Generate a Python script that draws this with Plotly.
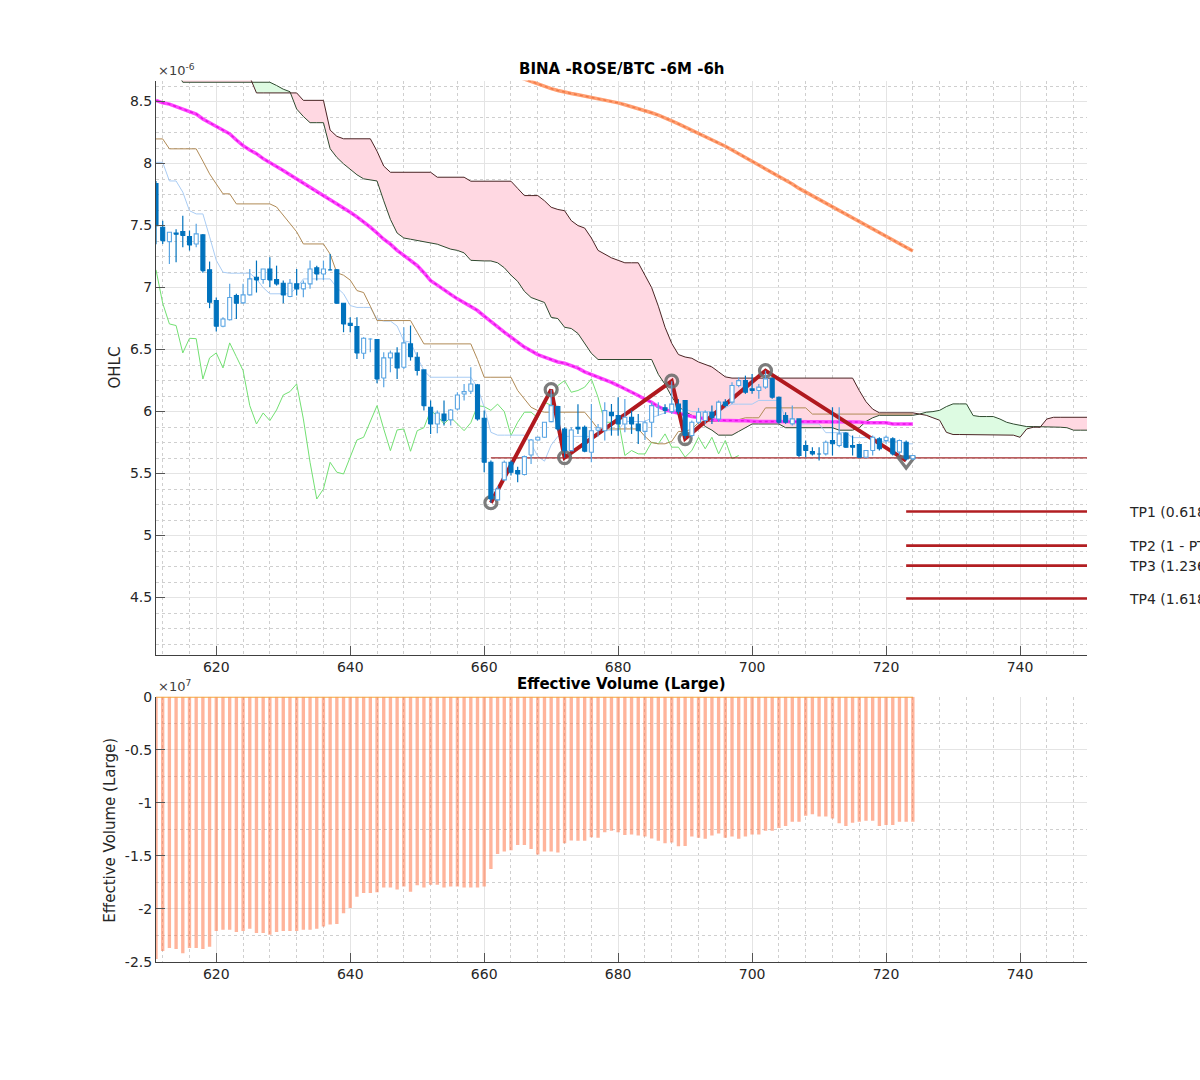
import plotly.graph_objects as go

# ---------------- data ----------------
x_start = 611
x_end_axis = 750
candle_x = list(range(611, 725))

opens = [7.84, 7.487, 7.371, 7.44, 7.452, 7.411, 7.352, 7.425, 7.143, 6.895,
         6.688, 6.74, 6.936, 6.877, 6.941, 7.083, 7.065, 7.15, 7.065, 7.035,
         6.928, 7.03, 6.99, 7.03, 7.159, 7.11, 7.145, 7.143, 6.874, 6.712,
         6.685, 6.47, 6.585, 6.58, 6.271, 6.433, 6.473, 6.358, 6.546, 6.438,
         6.336, 6.035, 5.90, 5.981, 5.933, 6.021, 6.142, 6.164, 6.215, 5.946,
         5.591, 5.288, 5.449, 5.591, 5.524, 5.492, 5.65, 5.771, 5.793, 5.919,
         6.04, 5.86, 5.685, 5.873, 5.873, 5.672, 5.85, 5.846, 5.994, 5.967,
         5.90, 5.954, 5.90, 5.84, 5.914, 6.035, 6.03, 6.00, 6.06, 6.089,
         5.807, 5.914, 5.928, 5.995, 5.94, 6.076, 6.076, 6.21, 6.25, 6.183,
         6.17, 6.197, 6.264, 6.116, 5.968, 5.901, 5.941, 5.726, 5.678, 5.66,
         5.659, 5.767, 5.726, 5.826, 5.726, 5.734, 5.632, 5.686, 5.78, 5.767,
         5.78, 5.673, 5.753, 5.619]
highs = [7.86, 7.54, 7.446, 7.47, 7.58, 7.46, 7.514, 7.433, 7.21, 6.92,
         6.76, 7.03, 6.95, 7.03, 7.15, 7.218, 7.15, 7.245, 7.177, 7.057,
         7.07, 7.15, 7.057, 7.218, 7.177, 7.218, 7.27, 7.15, 6.874, 6.76,
         6.76, 6.60, 6.59, 6.586, 6.478, 6.492, 6.519, 6.68, 6.694, 6.478,
         6.336, 6.089, 6.008, 6.089, 6.021, 6.156, 6.223, 6.357, 6.223, 6.008,
         5.605, 5.40, 5.605, 5.605, 5.556, 5.645, 5.779, 5.798, 5.914, 6.177,
         6.048, 5.873, 5.873, 6.06, 5.887, 6.061, 5.90, 6.075, 6.061, 6.115,
         6.102, 6.008, 5.981, 5.93, 6.075, 6.075, 6.06, 6.245, 6.10, 6.089,
         5.928, 6.03, 6.01, 6.05, 6.09, 6.10, 6.237, 6.277, 6.29, 6.304,
         6.223, 6.33, 6.277, 6.121, 5.995, 6.049, 5.941, 5.767, 5.713, 5.713,
         5.767, 6.035, 6.035, 5.834, 5.807, 5.74, 5.69, 5.807, 5.793, 5.807,
         5.793, 5.775, 5.767, 5.65]
lows = [7.35, 7.352, 7.191, 7.205, 7.325, 7.30, 7.325, 7.12, 6.834, 6.645,
        6.68, 6.735, 6.747, 6.87, 6.936, 6.96, 7.03, 7.003, 7.016, 6.874,
        6.922, 6.936, 6.922, 6.99, 7.057, 7.062, 7.14, 6.87, 6.64, 6.64,
        6.425, 6.425, 6.478, 6.228, 6.196, 6.317, 6.263, 6.344, 6.411, 6.29,
        6.008, 5.82, 5.825, 5.887, 5.887, 6.008, 6.089, 6.142, 5.927, 5.51,
        5.265, 5.28, 5.443, 5.484, 5.43, 5.484, 5.578, 5.766, 5.787, 5.914,
        5.846, 5.629, 5.68, 5.82, 5.672, 5.591, 5.80, 5.766, 5.806, 5.806,
        5.833, 5.82, 5.739, 5.77, 5.793, 5.967, 5.98, 5.98, 5.98, 5.782,
        5.793, 5.90, 5.90, 5.90, 5.915, 6.035, 6.062, 6.197, 6.143, 6.143,
        6.103, 6.183, 6.103, 5.901, 5.901, 5.888, 5.632, 5.632, 5.646, 5.605,
        5.646, 5.646, 5.713, 5.708, 5.646, 5.627, 5.627, 5.646, 5.686, 5.74,
        5.646, 5.646, 5.605, 5.61]
closes = [7.50, 7.379, 7.446, 7.43, 7.42, 7.344, 7.433, 7.137, 6.882, 6.688,
          6.747, 6.92, 6.874, 6.941, 7.07, 7.062, 7.15, 7.062, 7.03, 6.941,
          7.035, 6.99, 7.035, 7.15, 7.11, 7.15, 7.143, 6.874, 6.707, 6.694,
          6.473, 6.591, 6.588, 6.263, 6.433, 6.473, 6.352, 6.554, 6.443, 6.331,
          6.048, 5.90, 5.989, 5.927, 6.013, 6.134, 6.161, 6.223, 5.941, 5.591,
          5.295, 5.376, 5.591, 5.511, 5.497, 5.637, 5.771, 5.793, 5.914, 6.048,
          5.86, 5.685, 5.852, 5.86, 5.68, 5.846, 5.87, 6.008, 5.967, 5.90,
          5.954, 5.90, 5.846, 5.91, 6.048, 6.04, 6.01, 6.06, 6.00, 5.807,
          5.914, 5.995, 5.995, 5.95, 6.076, 6.05, 6.21, 6.25, 6.156, 6.17,
          6.197, 6.264, 6.116, 5.914, 5.914, 5.941, 5.646, 5.686, 5.659, 5.658,
          5.753, 5.74, 5.82, 5.713, 5.713, 5.632, 5.686, 5.793, 5.70, 5.793,
          5.659, 5.767, 5.619, 5.646]

tenkan = [8.01, 8.01, 7.86, 7.86, 7.77, 7.62, 7.594, 7.594, 7.41, 7.22,
          7.124, 7.116, 7.116, 7.116, 7.116, 7.07, 7.0, 6.95, 6.95, 6.95,
          6.95, 7.0, 7.07, 7.07, 7.07, 7.07, 7.07, 7.0, 6.95, 6.855,
          6.84, 6.84, 6.84, 6.747, 6.73, 6.73, 6.69, 6.57, 6.56, 6.44,
          6.33, 6.277, 6.277, 6.277, 6.277, 6.277, 6.277, 6.277, 6.196, 6.035,
          5.833, 5.81, 5.81, 5.81, 5.81, 5.81, 5.74, 5.64, 5.60, 5.73,
          5.80, 5.80, 5.80, 5.80, 5.80, 5.80, 5.83, 5.85, 5.85, 5.85,
          5.92, 5.92, 5.92, 5.92, 5.95, 5.97, 5.99, 6.01, 6.015, 6.02,
          6.0, 6.0, 6.0, 6.0, 6.0, 6.03, 6.06, 6.06, 6.06, 6.06,
          6.09, 6.09, 6.09, 6.09, 5.94, 5.94, 5.90, 5.90, 5.90, 5.90,
          5.83, 5.83, 5.83, 5.83, 5.79, 5.79, 5.79, 5.79, 5.76, 5.76,
          5.76, 5.76, 5.74, 5.74]
kijun = [8.199, 8.199, 8.119, 8.119, 8.119, 8.119, 8.119, 8.02, 7.917, 7.836,
         7.756, 7.756, 7.675, 7.675, 7.675, 7.675, 7.675, 7.675, 7.65, 7.58,
         7.514, 7.45, 7.352, 7.352, 7.352, 7.352, 7.27, 7.12, 7.10, 7.06,
         6.976, 6.96, 6.85, 6.734, 6.734, 6.734, 6.734, 6.734, 6.734, 6.64,
         6.546, 6.546, 6.546, 6.546, 6.546, 6.546, 6.546, 6.546, 6.42, 6.277,
         6.277, 6.277, 6.277, 6.277, 6.17, 6.10, 6.035, 6.008, 5.995, 5.995,
         5.995, 5.995, 5.995, 5.995, 5.995, 5.93, 5.86, 5.86, 5.86, 5.86,
         5.86, 5.86, 5.86, 5.80, 5.75, 5.74, 5.74, 5.76, 5.84, 5.84,
         5.86, 5.91, 5.92, 5.92, 5.92, 5.92, 5.92, 5.935, 5.95, 5.95,
         5.95, 6.03, 6.03, 6.03, 6.03, 6.03, 6.03, 6.03, 5.98, 5.98,
         5.98, 5.98, 5.98, 5.98, 5.98, 5.98, 5.98, 5.98, 5.98, 5.98,
         5.98, 5.98, 5.98, 5.98]

chikou_x = list(range(611, 699))
chikou = [7.143, 6.874, 6.707, 6.694, 6.473, 6.591, 6.588, 6.263, 6.433, 6.473,
          6.352, 6.554, 6.443, 6.331, 6.048, 5.90, 5.989, 5.927, 6.013, 6.134,
          6.161, 6.223, 5.941, 5.591, 5.295, 5.376, 5.591, 5.511, 5.497, 5.637,
          5.771, 5.793, 5.914, 6.048, 5.86, 5.685, 5.852, 5.86, 5.68, 5.846,
          5.87, 6.008, 5.967, 5.90, 5.954, 5.90, 5.846, 5.91, 6.048, 6.04,
          6.01, 6.06, 6.00, 5.807, 5.914, 5.995, 5.995, 5.95, 6.076, 6.05,
          6.21, 6.25, 6.156, 6.17, 6.197, 6.264, 6.116, 5.914, 5.914, 5.941,
          5.646, 5.686, 5.659, 5.658, 5.753, 5.74, 5.82, 5.713, 5.713, 5.632,
          5.686, 5.793, 5.70, 5.793, 5.659, 5.767, 5.619, 5.646]

cloud_x = list(range(611, 751))
senkou_a = [8.75, 8.75, 8.75, 8.75, 8.656, 8.656, 8.656, 8.656, 8.656, 8.656,   # 611-620
            8.656, 8.656, 8.656, 8.656, 8.656, 8.656, 8.656, 8.656, 8.63, 8.60,  # 621-630
            8.58, 8.44, 8.38, 8.33, 8.33, 8.33, 8.12, 8.05, 7.998, 7.95,       # 631-640
            7.91, 7.877, 7.87, 7.86, 7.70, 7.55, 7.44, 7.40, 7.39, 7.38,       # 641-650
            7.37, 7.36, 7.35, 7.33, 7.31, 7.30, 7.28, 7.22, 7.215, 7.215,      # 651-660
            7.215, 7.20, 7.16, 7.10, 7.05, 6.97, 6.92, 6.90, 6.88, 6.76,       # 661-670
            6.75, 6.68, 6.67, 6.63, 6.55, 6.47, 6.42, 6.42, 6.42, 6.42,        # 671-680
            6.42, 6.42, 6.42, 6.42, 6.42, 6.30, 6.22, 6.12, 6.04, 6.00,        # 681-690
            5.97, 5.93, 5.88, 5.85, 5.81, 5.81, 5.81, 5.84, 5.87, 5.90,        # 691-700
            5.90, 5.90, 5.90, 5.90, 5.87, 5.87, 5.87, 5.87, 5.87, 5.87,        # 701-710
            5.87, 5.87, 5.85, 5.85, 5.85, 5.87, 5.92, 5.95, 5.97, 5.97,        # 711-720
            5.97, 5.97, 5.97, 5.97, 5.98, 5.995, 6.0, 6.01, 6.04, 6.062,       # 721-730
            6.062, 6.062, 5.968, 5.96, 5.96, 5.96, 5.94, 5.914, 5.90, 5.887,   # 731-740
            5.879, 5.879, 5.879, 5.874, 5.874, 5.874, 5.87, 5.85, 5.85, 5.85]  # 741-750
senkou_b = [8.75, 8.75, 8.75, 8.75, 8.75, 8.75, 8.75, 8.75, 8.75, 8.75,        # 611-620
            8.75, 8.75, 8.75, 8.75, 8.70, 8.57, 8.57, 8.57, 8.57, 8.57,        # 621-630
            8.57, 8.57, 8.51, 8.51, 8.51, 8.51, 8.27, 8.22, 8.20, 8.20,        # 631-640
            8.20, 8.20, 8.20, 8.10, 7.98, 7.93, 7.93, 7.93, 7.93, 7.93,        # 641-650
            7.93, 7.93, 7.89, 7.89, 7.89, 7.89, 7.89, 7.858, 7.858, 7.858,     # 651-660
            7.858, 7.858, 7.858, 7.858, 7.80, 7.742, 7.742, 7.742, 7.70, 7.648,  # 661-670
            7.63, 7.62, 7.54, 7.50, 7.48, 7.40, 7.30, 7.27, 7.24, 7.22,        # 671-680
            7.20, 7.20, 7.20, 7.10, 7.00, 6.85, 6.68, 6.55, 6.46, 6.44,        # 681-690
            6.43, 6.40, 6.38, 6.36, 6.32, 6.28, 6.27, 6.27, 6.27, 6.27,        # 691-700
            6.27, 6.27, 6.27, 6.27, 6.27, 6.27, 6.27, 6.27, 6.27, 6.27,        # 701-710
            6.27, 6.27, 6.27, 6.27, 6.27, 6.17, 6.08, 6.02, 5.99, 5.99,        # 711-720
            5.99, 5.99, 5.99, 5.99, 5.98, 5.97, 5.95, 5.93, 5.833, 5.815,      # 721-730
            5.815, 5.815, 5.815, 5.815, 5.815, 5.815, 5.81, 5.81, 5.81, 5.793, # 731-740
            5.86, 5.874, 5.874, 5.94, 5.954, 5.954, 5.954, 5.954, 5.954, 5.954]  # 741-750

ma_magenta = [8.51, 8.49, 8.48, 8.46, 8.44, 8.42, 8.40, 8.36, 8.33, 8.30,
              8.27, 8.24, 8.19, 8.145, 8.11, 8.08, 8.04, 8.01, 7.975, 7.944,
              7.91, 7.877, 7.84, 7.805, 7.77, 7.74, 7.71, 7.675, 7.64, 7.608,
              7.57, 7.53, 7.487, 7.44, 7.39, 7.35, 7.30, 7.26, 7.22, 7.178,
              7.12, 7.056, 7.02, 6.98, 6.945, 6.909, 6.88, 6.85, 6.815, 6.77,
              6.725, 6.68, 6.64, 6.60, 6.559, 6.52, 6.49, 6.46, 6.44, 6.42,
              6.40, 6.39, 6.37, 6.35, 6.32, 6.30, 6.28, 6.26, 6.235, 6.21,
              6.185, 6.16, 6.13, 6.10, 6.075, 6.04, 6.015, 6.0, 5.985, 5.97,
              5.96, 5.95, 5.94, 5.935, 5.93, 5.927, 5.927, 5.927, 5.927, 5.92,
              5.92, 5.92, 5.92, 5.92, 5.92, 5.915, 5.915, 5.915, 5.915, 5.915,
              5.915, 5.915, 5.915, 5.915, 5.915, 5.915, 5.91, 5.91, 5.91, 5.91,
              5.90, 5.90, 5.90, 5.90]

ma_orange_x = list(range(664, 725))
ma_orange = [8.72, 8.70, 8.685, 8.665, 8.645, 8.625, 8.605, 8.59, 8.575, 8.565,
             8.555, 8.545, 8.53, 8.52, 8.51, 8.50, 8.49, 8.475, 8.46, 8.445,
             8.43, 8.41, 8.39, 8.37, 8.345, 8.32, 8.295, 8.27, 8.245, 8.22,
             8.19, 8.165, 8.14, 8.11, 8.08, 8.05, 8.02, 7.99, 7.96, 7.93,
             7.90, 7.865, 7.835, 7.80, 7.77, 7.74, 7.71, 7.685, 7.655, 7.625,
             7.595, 7.565, 7.535, 7.505, 7.47, 7.44, 7.41, 7.38, 7.35, 7.32,
             7.295]

zigzag_x = [661, 670, 672, 688, 690, 702, 723]
zigzag_y = [5.265, 6.177, 5.629, 6.245, 5.782, 6.33, 5.605]

support_start = 661
support_level = 5.627

tp_start = 723
tp_levels = [5.194, 4.919, 4.758, 4.492]
tp_labels = ["TP1 (0.618)", "TP2 (1 - PT)", "TP3 (1.236)", "TP4 (1.618)"]

volume = [-2.475, -2.40, -2.37, -2.38, -2.42, -2.37, -2.37, -2.38, -2.36, -2.21,
          -2.20, -2.20, -2.22, -2.21, -2.19, -2.23, -2.23, -2.245, -2.22, -2.21,
          -2.21, -2.21, -2.20, -2.20, -2.19, -2.167, -2.15, -2.145, -2.044, -1.994,
          -1.887, -1.852, -1.852, -1.846, -1.80, -1.80, -1.82, -1.79, -1.84, -1.78,
          -1.80, -1.775, -1.775, -1.80, -1.79, -1.79, -1.80, -1.80, -1.80, -1.79,
          -1.626, -1.484, -1.46, -1.45, -1.40, -1.40, -1.437, -1.49, -1.46, -1.46,
          -1.47, -1.384, -1.358, -1.36, -1.36, -1.327, -1.33, -1.28, -1.264, -1.28,
          -1.305, -1.30, -1.31, -1.32, -1.337, -1.36, -1.384, -1.375, -1.412, -1.41,
          -1.32, -1.33, -1.34, -1.31, -1.29, -1.33, -1.32, -1.34, -1.32, -1.30,
          -1.30, -1.264, -1.264, -1.24, -1.22, -1.18, -1.18, -1.123, -1.11, -1.13,
          -1.13, -1.15, -1.195, -1.22, -1.19, -1.18, -1.17, -1.17, -1.22, -1.21,
          -1.21, -1.18, -1.18, -1.18]

price_ticks = [4.5, 5, 5.5, 6, 6.5, 7, 7.5, 8, 8.5]
vol_ticks = [0, -0.5, -1, -1.5, -2, -2.5]
vol_ticktext = ["0", "-0.5", "-1", "-1.5", "-2", "-2.5"]
x_ticks = [620, 640, 660, 680, 700, 720, 740]

# ---------------- figure ----------------
W, H = 1200, 1080
FONT = "DejaVu Sans"
# the rendered page maps layout pixels slightly compressed vertically; compensate
def yfrac(px):
    return 1 - ((px - 7.5) / 0.985) / H

fig = go.Figure()

# Ichimoku cloud fills (split where spans cross)
def cloud_runs(xs, a, b):
    runs = []
    cx, ca, cb = [xs[0]], [a[0]], [b[0]]
    sign = a[0] >= b[0]
    for i in range(1, len(xs)):
        s = a[i] >= b[i]
        if s != sign:
            d0 = a[i - 1] - b[i - 1]
            d1 = a[i] - b[i]
            t = d0 / (d0 - d1)
            xc = xs[i - 1] + t * (xs[i] - xs[i - 1])
            yc = a[i - 1] + t * (a[i] - a[i - 1])
            cx.append(xc); ca.append(yc); cb.append(yc)
            runs.append((sign, cx, ca, cb))
            cx, ca, cb = [xc], [yc], [yc]
            sign = s
        cx.append(xs[i]); ca.append(a[i]); cb.append(b[i])
    runs.append((sign, cx, ca, cb))
    return runs

for sign, cx, ca, cb in cloud_runs(cloud_x, senkou_a, senkou_b):
    fig.add_trace(go.Scatter(
        x=cx + cx[::-1], y=ca + cb[::-1], fill="toself", mode="lines",
        line=dict(width=0), fillcolor="#DDFBE2" if sign else "#FFD8E2",
        hoverinfo="skip", showlegend=False))

fig.add_trace(go.Scatter(x=cloud_x, y=senkou_a, mode="lines",
                         line=dict(color="#2F4A2F", width=1), showlegend=False))
fig.add_trace(go.Scatter(x=cloud_x, y=senkou_b, mode="lines",
                         line=dict(color="#4A2424", width=1), showlegend=False))

fig.add_trace(go.Scatter(x=chikou_x, y=chikou, mode="lines",
                         line=dict(color="#72E072", width=1), showlegend=False))
fig.add_trace(go.Scatter(x=candle_x, y=tenkan, mode="lines",
                         line=dict(color="#A9CCF4", width=1), showlegend=False))
fig.add_trace(go.Scatter(x=candle_x, y=kijun, mode="lines",
                         line=dict(color="#B08A55", width=1), showlegend=False))
fig.add_trace(go.Scatter(x=candle_x, y=ma_magenta, mode="lines",
                         line=dict(color="#FF45FF", width=3.5), showlegend=False))
fig.add_trace(go.Scatter(x=candle_x, y=ma_magenta, mode="lines",
                         line=dict(color="#E414E4", width=1.5, dash="dot"), showlegend=False))
fig.add_trace(go.Scatter(x=ma_orange_x, y=ma_orange, mode="lines",
                         line=dict(color="#FF9E70", width=3.5), showlegend=False))
fig.add_trace(go.Scatter(x=ma_orange_x, y=ma_orange, mode="lines",
                         line=dict(color="#F07A48", width=1.5, dash="dot"), showlegend=False))

# support line
fig.add_trace(go.Scatter(x=[support_start, x_end_axis], y=[support_level, support_level],
                         mode="lines", line=dict(color="#A3282A", width=1.3), showlegend=False))
# TP lines
for lvl in tp_levels:
    fig.add_trace(go.Scatter(x=[tp_start, x_end_axis], y=[lvl, lvl], mode="lines",
                             line=dict(color="#B21E22", width=2.6), showlegend=False))

# zigzag + pivots (drawn beneath candles)
fig.add_trace(go.Scatter(x=zigzag_x, y=zigzag_y, mode="lines",
                         line=dict(color="#B0191E", width=4), showlegend=False))
fig.add_trace(go.Scatter(x=zigzag_x[:-1], y=zigzag_y[:-1], mode="markers",
                         marker=dict(symbol="circle-open", size=12, color="rgba(110,110,110,0.9)",
                                     line=dict(width=3.2, color="rgba(110,110,110,0.9)")),
                         showlegend=False))
fig.add_trace(go.Scatter(x=zigzag_x[-1:], y=zigzag_y[-1:], mode="markers",
                         marker=dict(symbol="triangle-down-open", size=15, color="rgba(110,110,110,0.9)",
                                     line=dict(width=3.2, color="rgba(110,110,110,0.9)")),
                         showlegend=False))

# candles, drawn as scatter shapes so they sit above the indicator lines
HW = 0.3
groups = {True: dict(wx=[], wy=[], bx=[], by=[]), False: dict(wx=[], wy=[], bx=[], by=[])}
for xi, o, h, l, c in zip(candle_x, opens, highs, lows, closes):
    g = groups[c >= o]
    g["wx"] += [xi, xi, None]
    g["wy"] += [l, h, None]
    lo, hi = min(o, c), max(o, c)
    g["bx"] += [xi - HW, xi + HW, xi + HW, xi - HW, xi - HW, None]
    g["by"] += [lo, lo, hi, hi, lo, None]

up_col, dn_col = "#5AA5E3", "#0072BD"
for up in (True, False):
    g = groups[up]
    col = up_col if up else dn_col
    fig.add_trace(go.Scatter(x=g["wx"], y=g["wy"], mode="lines",
                             line=dict(color=col, width=1.2), showlegend=False,
                             hoverinfo="skip"))
for up in (True, False):
    g = groups[up]
    col = up_col if up else dn_col
    fig.add_trace(go.Scatter(x=g["bx"], y=g["by"], mode="lines", fill="toself",
                             fillcolor="white" if up else dn_col,
                             line=dict(color=col, width=1.1), showlegend=False,
                             hoverinfo="skip"))

# volume
fig.add_trace(go.Bar(x=candle_x, y=volume, width=0.5,
                     marker=dict(color="rgba(255,118,72,0.55)", line=dict(width=0)),
                     showlegend=False, xaxis="x2", yaxis="y2"))
fig.add_trace(go.Scatter(x=[candle_x[0], candle_x[-1]], y=[0, 0], mode="lines",
                         line=dict(color="#F4A640", width=2), showlegend=False,
                         xaxis="x2", yaxis="y2"))

# ---------------- layout ----------------
x0, x1 = 156 / W, 1087 / W
top_dom = [yfrac(654), yfrac(80)]
bot_dom = [yfrac(961), yfrac(696)]

tickfont = dict(family=FONT, size=14, color="#262626")
common_x = dict(range=[x_start, x_end_axis], tickvals=x_ticks, ticks="inside", ticklen=9,
                tickcolor="#555555", showline=True, linecolor="#404040", linewidth=1,
                showgrid=True, gridcolor="#E4E4E4", gridwidth=1, zeroline=False,
                tickfont=tickfont, domain=[x0, x1],
                minor=dict(dtick=4, tick0=0, showgrid=True, gridcolor="#CFCFCF",
                           griddash="dot", gridwidth=1))

fig.update_layout(
    width=W, height=H, margin=dict(l=0, r=0, t=0, b=0),
    paper_bgcolor="white", plot_bgcolor="white", showlegend=False,
    xaxis=dict(common_x, anchor="y"),
    xaxis2=dict(common_x, anchor="y2"),
    yaxis=dict(range=[4.04, 8.67], domain=top_dom, anchor="x", tickvals=price_ticks,
               ticks="inside", ticklen=9, tickcolor="#555555", showline=True,
               linecolor="#404040", linewidth=1, showgrid=True, gridcolor="#E4E4E4",
               zeroline=False, tickfont=tickfont,
               minor=dict(dtick=0.125, tick0=0, showgrid=True, gridcolor="#CFCFCF",
                          griddash="dot", gridwidth=1)),
    yaxis2=dict(range=[-2.5, 0], domain=bot_dom, anchor="x2", tickvals=vol_ticks,
                ticktext=vol_ticktext, ticks="inside", ticklen=9, tickcolor="#555555",
                showline=True, linecolor="#404040", linewidth=1, showgrid=True,
                gridcolor="#E4E4E4", zeroline=False, tickfont=tickfont,
                minor=dict(dtick=0.25, tick0=0, showgrid=True, gridcolor="#CFCFCF",
                           griddash="dot", gridwidth=1)),
)

ann = []
ann.append(dict(text="<b>BINA -ROSE/BTC -6M -6h</b>", x=(x0 + x1) / 2, y=yfrac(68),
                xref="paper", yref="paper", xanchor="center", yanchor="middle",
                showarrow=False, font=dict(family=FONT, size=15, color="black")))
ann.append(dict(text="<b>Effective Volume (Large)</b>", x=(x0 + x1) / 2, y=yfrac(683),
                xref="paper", yref="paper", xanchor="center", yanchor="middle",
                showarrow=False, font=dict(family=FONT, size=15, color="black")))
ann.append(dict(text="OHLC", x=115 / W, y=yfrac(367), xref="paper", yref="paper",
                xanchor="center", yanchor="middle", textangle=-90, showarrow=False,
                font=dict(family=FONT, size=15, color="#262626")))
ann.append(dict(text="Effective Volume (Large)", x=110 / W, y=yfrac(829), xref="paper",
                yref="paper", xanchor="center", yanchor="middle", textangle=-90,
                showarrow=False, font=dict(family=FONT, size=15, color="#262626")))
ann.append(dict(text="×10<sup>-6</sup>", x=156 / W, y=yfrac(79), xref="paper", yref="paper",
                xanchor="left", yanchor="bottom", showarrow=False,
                font=dict(family=FONT, size=13, color="#404040")))
ann.append(dict(text="×10<sup>7</sup>", x=156 / W, y=yfrac(695), xref="paper", yref="paper",
                xanchor="left", yanchor="bottom", showarrow=False,
                font=dict(family=FONT, size=13, color="#404040")))
for lvl, lab in zip(tp_levels, tp_labels):
    ann.append(dict(text=lab, x=1127 / W, y=lvl, xref="paper", yref="y",
                    xanchor="left", yanchor="middle", showarrow=False,
                    font=dict(family=FONT, size=14, color="#262626")))
fig.update_layout(annotations=ann)

fig.write_html("out.html")
